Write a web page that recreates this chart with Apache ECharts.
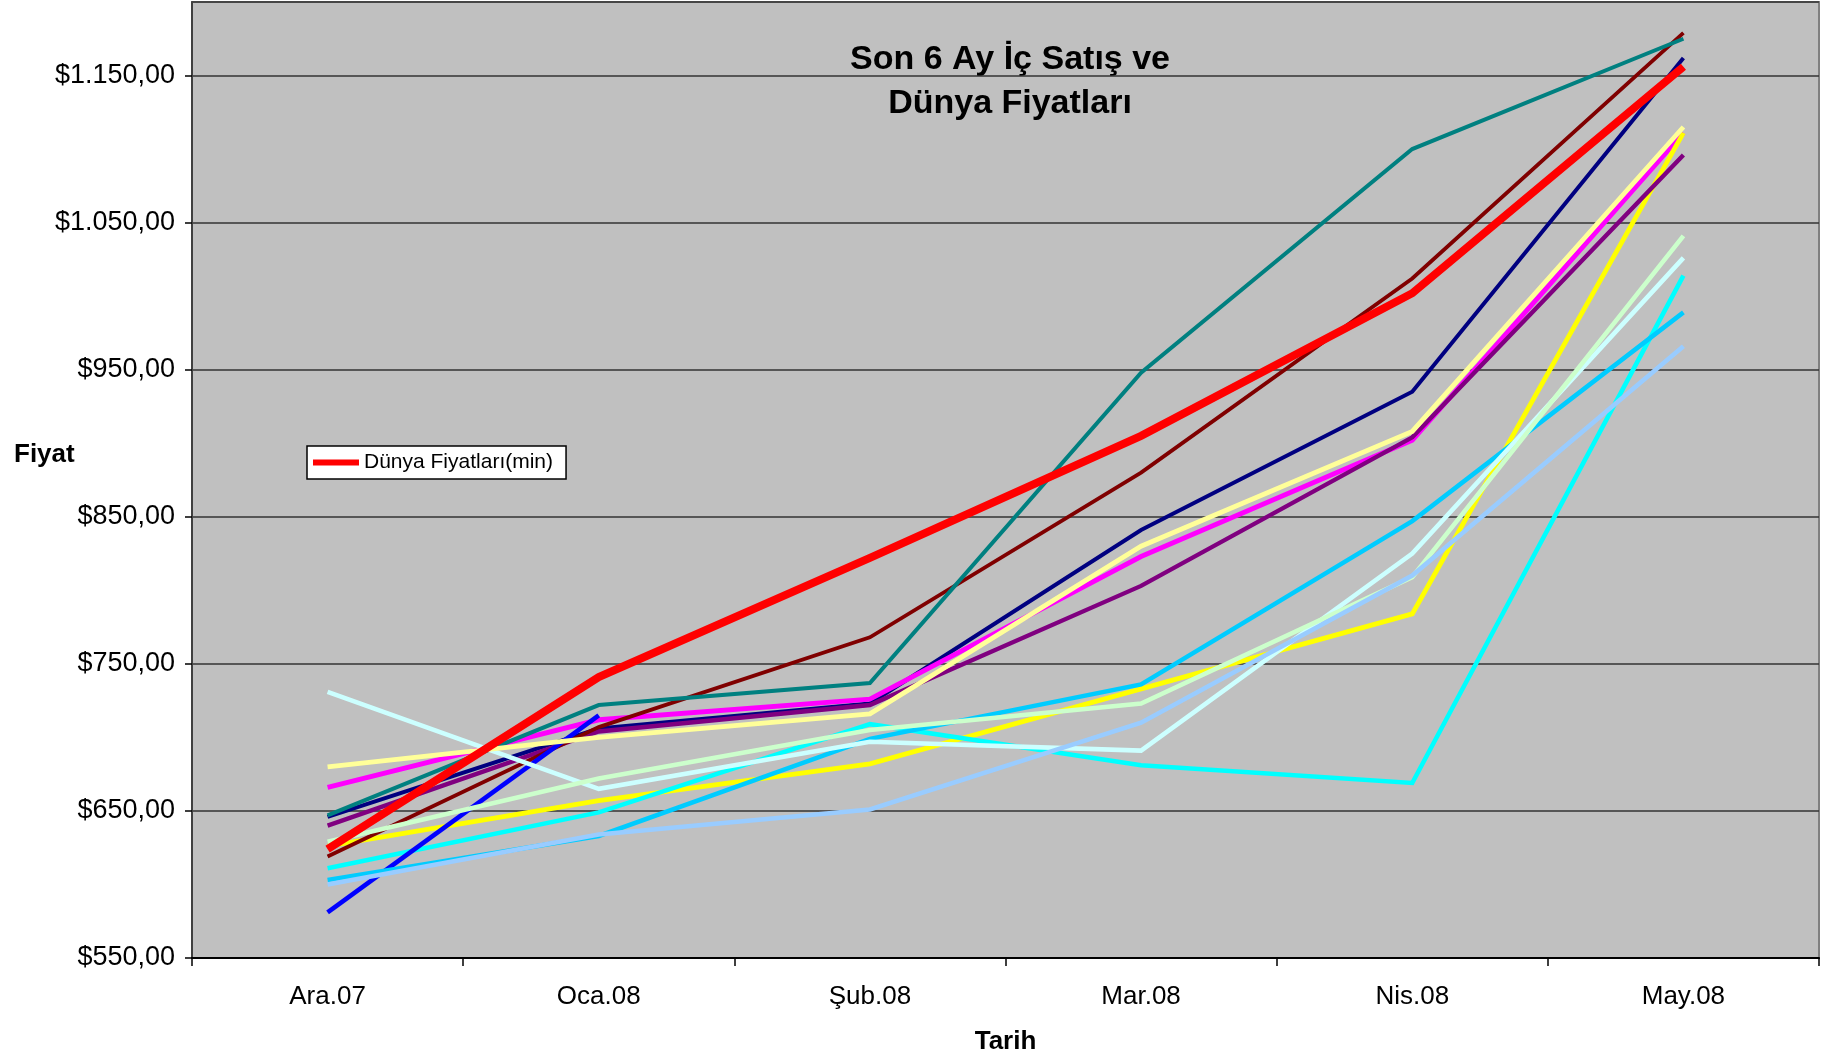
<!DOCTYPE html>
<html>
<head>
<meta charset="utf-8">
<script src="https://cdn.jsdelivr.net/npm/echarts@6/dist/echarts.min.js"></script>
<style>
html,body{margin:0;padding:0;background:#fff;}
#chart{width:1822px;height:1060px;}
</style>
</head>
<body>
<div id="chart"></div>
<script>
var categories = ['Ara.07', 'Oca.08', 'Şub.08', 'Mar.08', 'Nis.08', 'May.08'];

var navyValues      = [646, 706, 723, 841, 935, 1162];
var magentaValues   = [666, 712, 726, 823, 902, 1111];
var yellowValues    = [626, 657, 682, 733, 784, 1111];
var cyanValues      = [611, 649, 709, 681, 669, 1014];
var purpleValues    = [640, 704, 722, 803, 904, 1096];
var maroonValues    = [619, 707, 768, 880, 1012, 1179];
var tealValues      = [647, 722, 737, 948, 1100, 1175];
var blueValues      = [581, 715, null, null, null, null];
var skyBlueValues   = [603, 633, 699, 736, 847, 989];
var turquoiseValues = [731, 665, 697, 691, 825, 1026];
var lightGreenValues= [629, 672, 705, 723, 809, 1041];
var lightYellowValues=[680, 700, 716, 830, 908, 1115];
var paleBlueValues  = [600, 634, 651, 710, 810, 966];
var worldPriceValues= [624, 741, 822, 905, 1002, 1156];

var worldName = 'Dünya Fiyatları(min)';
var titleLine1 = 'Son 6 Ay İç Satış ve';
var titleLine2 = 'Dünya Fiyatları';
var yName = 'Fiyat';
var xName = 'Tarih';

var FONT = '"Liberation Sans", Arial, sans-serif';

function mk(name, data, color, width) {
  return {
    name: name, type: 'line', data: data, symbol: 'none', smooth: false,
    connectNulls: false, silent: true,
    lineStyle: { color: color, width: width, cap: 'butt', join: 'miter' },
    itemStyle: { color: color }
  };
}

var series = [
  mk('s1', navyValues, '#000080', 4),
  mk('s2', magentaValues, '#FF00FF', 5),
  mk('s3', yellowValues, '#FFFF00', 4.8),
  mk('s4', cyanValues, '#00FFFF', 4.6),
  mk('s5', purpleValues, '#800080', 4.4),
  mk('s6', maroonValues, '#800000', 3.8),
  mk('s7', tealValues, '#008080', 4),
  mk('s8', blueValues, '#0000FF', 4.6),
  mk('s9', skyBlueValues, '#00CCFF', 4.6),
  mk('s10', turquoiseValues, '#CCFFFF', 4.6),
  mk('s11', lightGreenValues, '#CCFFCC', 4.6),
  mk('s12', lightYellowValues, '#FFFF99', 4.8),
  mk('s13', paleBlueValues, '#99CCFF', 4.6),
  mk(worldName, worldPriceValues, '#FF0000', 8)
];

function fmtMoney(v) {
  var s = String(Math.round(v));
  s = s.replace(/\B(?=(\d{3})+(?!\d))/g, '.');
  return '$' + s + ',00';
}

var chart = echarts.init(document.getElementById('chart'), null, { renderer: 'canvas' });
chart.setOption({
  animation: false,
  backgroundColor: '#ffffff',
  textStyle: { fontFamily: FONT },
  grid: {
    left: 192, right: 3, top: 2, bottom: 94,
    show: true, backgroundColor: '#C0C0C0', borderColor: '#808080', borderWidth: 2
  },
  legend: {
    data: [{ name: worldName, icon: 'rect' }],
    left: 307, top: 446,
    orient: 'horizontal',
    itemWidth: 46, itemHeight: 6, itemGap: 5,
    padding: [6, 13, 6, 6],
    backgroundColor: '#ffffff', borderColor: '#000000', borderWidth: 1.5,
    selectedMode: false,
    textStyle: { fontFamily: FONT, fontSize: 21, color: '#000' }
  },
  graphic: [
    { type: 'text', x: 1010, y: 59.5, silent: true,
      style: { text: titleLine1, font: 'bold 34px ' + FONT, fill: '#000', textAlign: 'center', textVerticalAlign: 'middle' } },
    { type: 'text', x: 1010, y: 103.5, silent: true,
      style: { text: titleLine2, font: 'bold 34px ' + FONT, fill: '#000', textAlign: 'center', textVerticalAlign: 'middle' } },
    { type: 'text', x: 14, y: 455, silent: true,
      style: { text: yName, font: 'bold 26px ' + FONT, fill: '#000', textAlign: 'left', textVerticalAlign: 'middle' } }
  ],
  xAxis: {
    type: 'category',
    data: categories,
    boundaryGap: true,
    name: xName,
    nameLocation: 'middle',
    nameGap: 71,
    nameTextStyle: { fontFamily: FONT, fontSize: 26, fontWeight: 'bold', color: '#000' },
    axisLine: { show: true, lineStyle: { color: '#000', width: 2 } },
    axisTick: { show: true, length: 8, interval: 0, alignWithLabel: false, lineStyle: { color: '#000', width: 1.5 } },
    axisLabel: { interval: 0, margin: 26, fontFamily: FONT, fontSize: 26, color: '#000' },
    splitLine: { show: false }
  },
  yAxis: {
    type: 'value',
    min: 550, max: 1200, interval: 100,
    axisLine: { show: true, lineStyle: { color: '#404040', width: 2 } },
    axisTick: { show: true, length: 7, inside: false, lineStyle: { color: '#000', width: 1.5 } },
    axisLabel: {
      showMaxLabel: false, margin: 17, fontFamily: FONT, fontSize: 27, color: '#000',
      formatter: function (v) { return v > 1150 ? '' : fmtMoney(v); }
    },
    splitLine: { show: true, lineStyle: { color: '#333333', width: 1.5 } }
  },
  series: series
});
</script>
</body>
</html>
